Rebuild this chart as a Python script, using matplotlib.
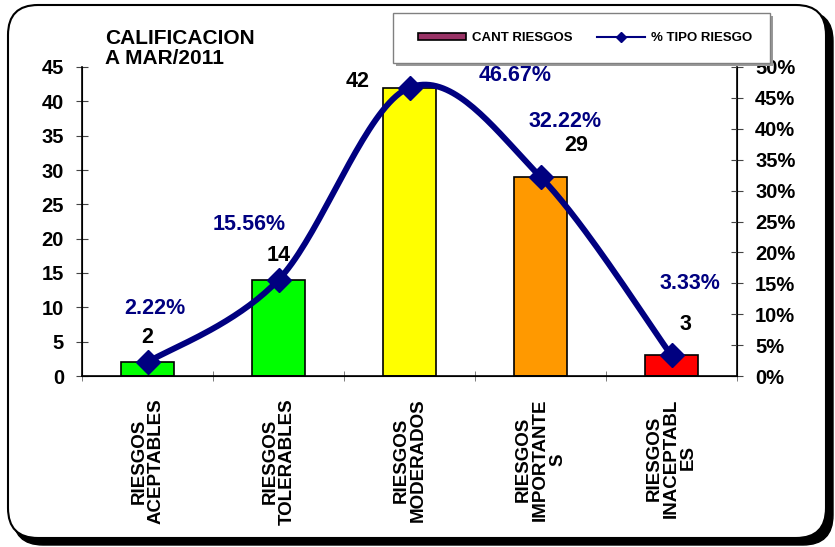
import numpy as np
from matplotlib import pyplot as plt
from matplotlib.patches import FancyBboxPatch, Rectangle, Patch
from matplotlib.lines import Line2D

plt.rcParams['font.family'] = ['Liberation Sans', 'DejaVu Sans']
plt.rcParams['font.weight'] = 'bold'

# data
categories = ['RIESGOS\nACEPTABLES', 'RIESGOS\nTOLERABLES', 'RIESGOS\nMODERADOS',
              'RIESGOS\nIMPORTANTE\nS', 'RIESGOS\nINACEPTABL\nES']
cant = [2, 14, 42, 29, 3]
pct = [2.22, 15.56, 46.67, 32.22, 3.33]
bar_colors = ['#00FF00', '#00FF00', '#FFFF00', '#FF9900', '#FF0000']
yticks_left = [0, 5, 10, 15, 20, 25, 30, 35, 40, 45]
yticks_right = [0, 5, 10, 15, 20, 25, 30, 35, 40, 45, 50]

navy = '#000080'


def smooth(xs, ys, n=40):
    # bezier smoothing like the spreadsheet's smoothed line
    xs = np.asarray(xs, float)
    ys = np.asarray(ys, float)
    P = np.column_stack([xs, ys])
    P = np.vstack([P[0], P, P[-1]])
    out = []
    t = np.linspace(0, 1, n)[:, None]
    for i in range(1, len(P) - 2):
        p0, p1, p2, p3 = P[i - 1], P[i], P[i + 1], P[i + 2]
        c1 = p1 + (p2 - p0) / 6.0
        c2 = p2 - (p3 - p1) / 6.0
        seg = (1 - t) ** 3 * p1 + 3 * (1 - t) ** 2 * t * c1 + 3 * (1 - t) * t ** 2 * c2 + t ** 3 * p2
        out.append(seg if i == 1 else seg[1:])
    out = np.vstack(out)
    return out[:, 0], out[:, 1]


fig = plt.figure(figsize=(8.35, 5.47), dpi=100)

# outer rounded frame with shadow
shadow = FancyBboxPatch((0.13, 0.02), 8.20, 5.34, boxstyle='round,pad=0,rounding_size=0.3',
                        transform=fig.dpi_scale_trans, facecolor='black', edgecolor='black', zorder=-2)
frame = FancyBboxPatch((0.08, 0.09), 8.18, 5.33, boxstyle='round,pad=0,rounding_size=0.3',
                       transform=fig.dpi_scale_trans, facecolor='white', edgecolor='black',
                       linewidth=1.5, zorder=-1)
fig.patches.append(shadow)
fig.patches.append(frame)

ax = fig.add_axes([82 / 835, 1 - 376 / 547, (737 - 82) / 835, (376 - 67) / 547])
ax.patch.set_alpha(0)
x = np.arange(len(categories))
ax.bar(x, cant, width=0.4, color=bar_colors, edgecolor='black', linewidth=1.2)
ax.set_xlim(-0.5, len(categories) - 0.5)
ax.set_ylim(0, 45)
ax.set_yticks(yticks_left)
ax.set_yticklabels([str(v) for v in yticks_left], fontsize=14.5, fontweight='bold')
ax.set_xticks(x)
ax.set_xticklabels(categories, rotation=90, fontsize=13.5, fontweight='bold',
                   va='top', ha='center', multialignment='center', linespacing=1.0)
ax.set_xticks(np.arange(-0.5, len(categories)), minor=True)
ax.tick_params(axis='x', which='major', length=0, pad=16)
ax.tick_params(axis='x', which='minor', length=7, direction='inout', color='#666666')
ax.tick_params(axis='y', length=8, direction='inout', pad=9, color='#444444')
ax.spines['top'].set_visible(False)
for s in ['left', 'right', 'bottom']:
    ax.spines[s].set_linewidth(1.2)

bar_offsets = [(0, 10), (0, 10), (-37, -3), (26, 15), (10, 15)]
for xi, v, off in zip(x, cant, bar_offsets):
    ax.annotate(str(v), (xi, v), xytext=off, textcoords='offset points',
                ha='center', va='bottom', fontsize=15.5, fontweight='bold')

ax2 = ax.twinx()
ax2.set_ylim(0, 50)
ax2.set_yticks(yticks_right)
ax2.set_yticklabels(['%d%%' % v for v in yticks_right], fontsize=14.5, fontweight='bold')
ax2.tick_params(axis='y', length=8, direction='inout', pad=9, color='#444444')
ax2.spines['top'].set_visible(False)
sx, sy = smooth(x, pct)
ax2.plot(sx, sy, color=navy, linewidth=4.3, solid_capstyle='round', zorder=3)
ax2.plot(x, pct, linestyle='none', marker='D', markersize=12, color=navy, zorder=4)

pct_offsets = [(5, 39), (-21, 40), (76, 9), (18, 40), (13, 52)]
for xi, v, off in zip(x, pct, pct_offsets):
    ax2.annotate('%.2f%%' % v, (xi, v), xytext=off, textcoords='offset points',
                 ha='center', va='center', fontsize=15.5, fontweight='bold', color=navy)

fig.text(105 / 835, 1 - 29 / 547, 'CALIFICACION\nA MAR/2011', ha='left', va='top',
         fontsize=15, fontweight='bold', linespacing=1.1)

# legend box
fig.patches.append(Rectangle((396 / 835, 1 - 66 / 547), 377 / 835, 50 / 547, transform=fig.transFigure,
                             facecolor='#999999', edgecolor='none', zorder=5))
fig.patches.append(Rectangle((393 / 835, 1 - 63 / 547), 377 / 835, 50 / 547, transform=fig.transFigure,
                             facecolor='white', edgecolor='#808080', linewidth=1, zorder=6))
handles = [Patch(facecolor='#993366', edgecolor='black', linewidth=1.2),
           Line2D([], [], color=navy, linewidth=1.5, marker='D', markersize=5)]
leg = fig.legend(handles, ['CANT RIESGOS', '% TIPO RIESGO'], loc='center',
                 bbox_to_anchor=(585 / 835, 1 - 38 / 547), ncol=2, frameon=False,
                 prop={'size': 9.5, 'weight': 'bold'}, handlelength=3.6, handleheight=0.45,
                 columnspacing=1.9, handletextpad=0.45)
leg.set_zorder(7)

fig.savefig('out.png', dpi=100)
